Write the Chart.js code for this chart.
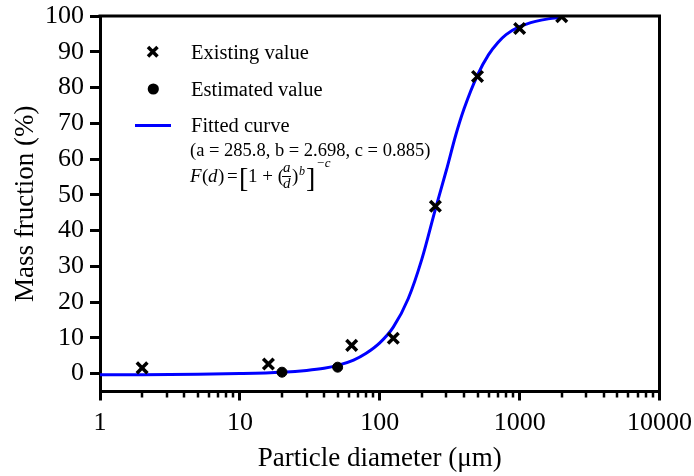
<!DOCTYPE html>
<html>
<head>
<meta charset="utf-8">
<script src="https://cdn.jsdelivr.net/npm/chart.js@4.4.1/dist/chart.umd.min.js"></script>
<style>
  html, body { margin: 0; padding: 0; background: #fff; }
  #wrap { width: 694px; height: 476px; }
</style>
</head>
<body>
<div id="wrap"><canvas id="psdChart" width="694" height="476"></canvas></div>
<script>
// measured points (particle diameter in um, mass fraction in %)
var existingDiam = [2, 16, 63, 125, 250, 500, 1000, 2000];
var existingMass = [1.6, 2.7, 7.9, 9.9, 46.8, 83.1, 96.5, 99.8];

var estimatedDiam = [20, 50];
var estimatedMass = [0.4, 1.8];

// fitted curve, sampled along the diameter axis
var curveDiam = [1, 2, 5, 10, 20, 30, 40, 50, 65, 80, 100, 125, 160, 200, 250, 300, 350, 400, 500, 600, 700, 800, 1000, 1300, 1600, 2000];
var curveMass = [-0.3, -0.3, -0.2, 0, 0.4, 0.9, 1.5, 2.3, 3.8, 5.7, 8.6, 13, 21, 32, 46, 57, 66.8, 74, 83.5, 89.2, 92.6, 94.8, 97, 98.5, 99.2, 99.6];

var xMajorTicks = [1, 10, 100, 1000, 10000];
var xMinorTicks = [2, 3, 4, 5, 6, 7, 8, 9, 20, 30, 40, 50, 60, 70, 80, 90, 200, 300, 400, 500, 600, 700, 800, 900, 2000, 3000, 4000, 5000, 6000, 7000, 8000, 9000];
var yTicks = [0, 10, 20, 30, 40, 50, 60, 70, 80, 90, 100];

var SERIF = '"Liberation Serif", "Times New Roman", serif';

function toPoints(xs, ys) {
  return xs.map(function (x, i) { return { x: x, y: ys[i] }; });
}

function isMajor(v) {
  return xMajorTicks.indexOf(v) !== -1;
}

// box on top/right, minor ticks on the log axis
var frame = {
  id: 'frame',
  afterDraw: function (chart) {
    var ctx = chart.ctx;
    var a = chart.chartArea;
    var xs = chart.scales.x;
    ctx.save();
    ctx.strokeStyle = '#000';
    ctx.lineWidth = 3;
    ctx.beginPath();
    ctx.moveTo(a.left - 1.5, a.top);
    ctx.lineTo(a.right, a.top);
    ctx.lineTo(a.right, a.bottom + 1.5);
    ctx.stroke();

    ctx.lineWidth = 2.5;
    ctx.beginPath();
    xMinorTicks.forEach(function (v) {
      var px = Math.round(xs.getPixelForValue(v));
      ctx.moveTo(px, a.bottom);
      ctx.lineTo(px, a.bottom + 6);
    });
    ctx.stroke();
    ctx.restore();
  }
};

// legend with the fit parameters and the formula
var legendBox = {
  id: 'legendBox',
  afterDraw: function (chart) {
    var ctx = chart.ctx;
    ctx.save();
    ctx.fillStyle = '#000';
    ctx.strokeStyle = '#000';

    // cross
    ctx.lineWidth = 3.5;
    ctx.beginPath();
    ctx.moveTo(148, 47); ctx.lineTo(157.5, 56.5);
    ctx.moveTo(157.5, 47); ctx.lineTo(148, 56.5);
    ctx.stroke();

    // dot
    ctx.beginPath();
    ctx.arc(153.3, 89, 5.6, 0, Math.PI * 2);
    ctx.fill();

    // line
    ctx.strokeStyle = '#0000ff';
    ctx.lineWidth = 3;
    ctx.beginPath();
    ctx.moveTo(135, 125.5); ctx.lineTo(171, 125.5);
    ctx.stroke();

    ctx.textBaseline = 'alphabetic';
    ctx.textAlign = 'left';
    ctx.font = '20.5px ' + SERIF;
    ctx.fillText('Existing value', 191, 58.5);
    ctx.fillText('Estimated value', 191, 95.5);
    ctx.fillText('Fitted curve', 191, 132);

    ctx.font = '18.5px ' + SERIF;
    ctx.fillText('(a = 285.8, b = 2.698, c = 0.885)', 190, 156);

    // F(d) = [1 + (a/d)^b]^-c
    var base = 182;
    ctx.font = 'italic 19px ' + SERIF;
    ctx.fillText('F', 190, base);
    ctx.font = '19px ' + SERIF;
    ctx.fillText('(', 202, base);
    ctx.font = 'italic 19px ' + SERIF;
    ctx.fillText('d', 208, base);
    ctx.font = '19px ' + SERIF;
    ctx.fillText(')', 218, base);
    ctx.fillText('=', 227, base);
    ctx.font = '28px ' + SERIF;
    ctx.fillText('[', 239, base + 5);
    ctx.font = '19px ' + SERIF;
    ctx.fillText('1 + (', 248, base);
    ctx.font = 'italic 15px ' + SERIF;
    ctx.fillText('a', 283, base - 10);
    ctx.fillText('d', 283, base + 6);
    ctx.lineWidth = 1;
    ctx.strokeStyle = '#000';
    ctx.beginPath();
    ctx.moveTo(282, base - 5.5); ctx.lineTo(291, base - 5.5);
    ctx.stroke();
    ctx.font = '19px ' + SERIF;
    ctx.fillText(')', 292, base);
    ctx.font = 'italic 12px ' + SERIF;
    ctx.fillText('b', 299, base - 7);
    ctx.font = '28px ' + SERIF;
    ctx.fillText(']', 306, base + 5);
    ctx.font = 'italic 13px ' + SERIF;
    ctx.fillText('\u2212c', 316, base - 15);
    ctx.restore();
  }
};

var ctx = document.getElementById('psdChart').getContext('2d');
var psdChart = new Chart(ctx, {
  data: {
    datasets: [
      {
        type: 'scatter',
        label: 'Existing value',
        data: toPoints(existingDiam, existingMass),
        pointStyle: 'crossRot',
        pointRadius: 7.5,
        borderColor: '#000',
        backgroundColor: '#000',
        pointBorderWidth: 3.5,
        order: 0
      },
      {
        type: 'scatter',
        label: 'Estimated value',
        data: toPoints(estimatedDiam, estimatedMass),
        pointStyle: 'circle',
        pointRadius: 5,
        borderColor: '#000',
        backgroundColor: '#000',
        pointBorderWidth: 1,
        order: 1
      },
      {
        type: 'line',
        label: 'Fitted curve',
        data: toPoints(curveDiam, curveMass),
        borderColor: '#0000ff',
        borderWidth: 3,
        pointRadius: 0,
        fill: false,
        cubicInterpolationMode: 'monotone',
        order: 2
      }
    ]
  },
  options: {
    responsive: false,
    animation: false,
    layout: { padding: { top: 16, right: 34.5, left: 0, bottom: 0 } },
    plugins: {
      legend: { display: false },
      tooltip: { enabled: false }
    },
    scales: {
      x: {
        type: 'logarithmic',
        min: 1,
        max: 10000,
        afterBuildTicks: function (axis) {
          axis.ticks = xMajorTicks.map(function (v) { return { value: v }; });
        },
        afterFit: function (axis) {
          axis.height = 84.5;
          axis.paddingLeft = 0;
          axis.paddingRight = 0;
        },
        border: { display: true, color: '#000', width: 3 },
        grid: {
          drawOnChartArea: false,
          drawTicks: true,
          tickLength: 9,
          tickWidth: 3,
          tickColor: '#000'
        },
        ticks: {
          autoSkip: false,
          maxRotation: 0,
          padding: 7,
          color: '#000',
          font: { family: SERIF, size: 26 },
          callback: function (v) { return isMajor(v) ? String(v) : ''; }
        },
        title: {
          display: true,
          text: 'Particle diameter (\u03bcm)',
          color: '#000',
          font: { family: SERIF, size: 27 },
          padding: { top: 0, bottom: 1 }
        }
      },
      y: {
        min: -5,
        max: 100,
        afterBuildTicks: function (axis) {
          axis.ticks = yTicks.map(function (v) { return { value: v }; });
        },
        afterFit: function (axis) {
          axis.width = 100;
          axis.paddingTop = 0;
          axis.paddingBottom = 0;
        },
        border: { display: true, color: '#000', width: 3 },
        grid: {
          drawOnChartArea: false,
          drawTicks: true,
          tickLength: 10,
          tickWidth: 3,
          tickColor: '#000'
        },
        ticks: {
          padding: 6,
          color: '#000',
          font: { family: SERIF, size: 26 }
        },
        title: {
          display: true,
          text: 'Mass fruction (%)',
          color: '#000',
          font: { family: SERIF, size: 27 },
          padding: { top: 10, bottom: 0 }
        }
      }
    }
  },
  plugins: [frame, legendBox]
});
</script>
</body>
</html>
